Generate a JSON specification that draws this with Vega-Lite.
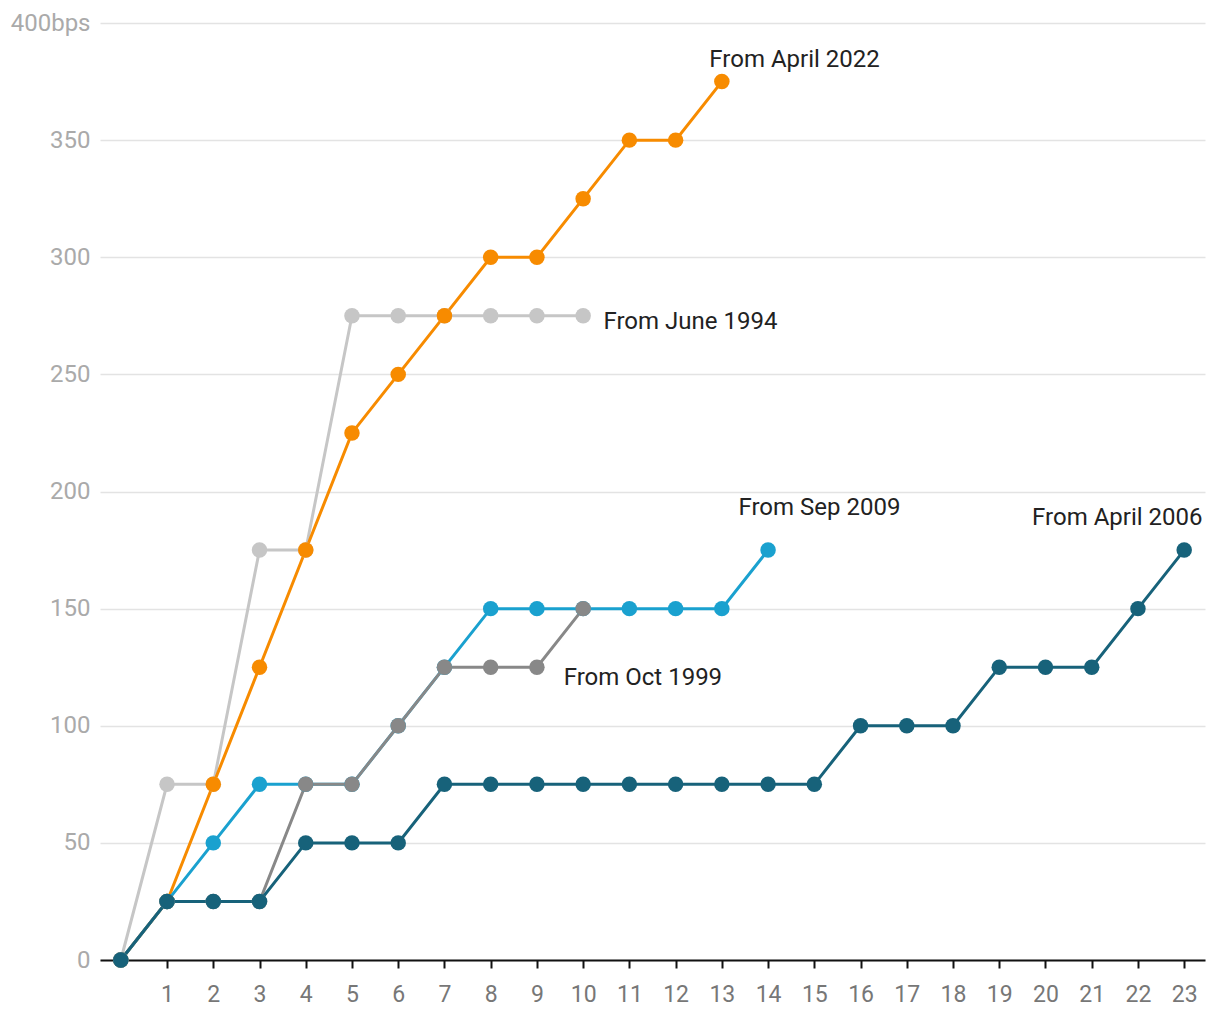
{
  "$schema": "https://vega.github.io/schema/vega-lite/v6.json",
  "width": 1105,
  "height": 937,
  "autosize": "none",
  "padding": {"left": 100, "top": 23, "right": 15, "bottom": 60},
  "background": "white",
  "config": {"view": {"stroke": null}, "font": "Roboto"},
  "datasets": {
    "series": [
      {"s": "June 1994", "x": 0, "y": 0}, {"s": "June 1994", "x": 1, "y": 75}, {"s": "June 1994", "x": 2, "y": 75}, {"s": "June 1994", "x": 3, "y": 175}, {"s": "June 1994", "x": 4, "y": 175}, {"s": "June 1994", "x": 5, "y": 275}, {"s": "June 1994", "x": 6, "y": 275}, {"s": "June 1994", "x": 7, "y": 275}, {"s": "June 1994", "x": 8, "y": 275}, {"s": "June 1994", "x": 9, "y": 275}, {"s": "June 1994", "x": 10, "y": 275},
      {"s": "April 2022", "x": 0, "y": 0}, {"s": "April 2022", "x": 1, "y": 25}, {"s": "April 2022", "x": 2, "y": 75}, {"s": "April 2022", "x": 3, "y": 125}, {"s": "April 2022", "x": 4, "y": 175}, {"s": "April 2022", "x": 5, "y": 225}, {"s": "April 2022", "x": 6, "y": 250}, {"s": "April 2022", "x": 7, "y": 275}, {"s": "April 2022", "x": 8, "y": 300}, {"s": "April 2022", "x": 9, "y": 300}, {"s": "April 2022", "x": 10, "y": 325}, {"s": "April 2022", "x": 11, "y": 350}, {"s": "April 2022", "x": 12, "y": 350}, {"s": "April 2022", "x": 13, "y": 375},
      {"s": "Sep 2009", "x": 0, "y": 0}, {"s": "Sep 2009", "x": 1, "y": 25}, {"s": "Sep 2009", "x": 2, "y": 50}, {"s": "Sep 2009", "x": 3, "y": 75}, {"s": "Sep 2009", "x": 4, "y": 75}, {"s": "Sep 2009", "x": 5, "y": 75}, {"s": "Sep 2009", "x": 6, "y": 100}, {"s": "Sep 2009", "x": 7, "y": 125}, {"s": "Sep 2009", "x": 8, "y": 150}, {"s": "Sep 2009", "x": 9, "y": 150}, {"s": "Sep 2009", "x": 10, "y": 150}, {"s": "Sep 2009", "x": 11, "y": 150}, {"s": "Sep 2009", "x": 12, "y": 150}, {"s": "Sep 2009", "x": 13, "y": 150}, {"s": "Sep 2009", "x": 14, "y": 175},
      {"s": "Oct 1999", "x": 0, "y": 0}, {"s": "Oct 1999", "x": 1, "y": 25}, {"s": "Oct 1999", "x": 2, "y": 25}, {"s": "Oct 1999", "x": 3, "y": 25}, {"s": "Oct 1999", "x": 4, "y": 75}, {"s": "Oct 1999", "x": 5, "y": 75}, {"s": "Oct 1999", "x": 6, "y": 100}, {"s": "Oct 1999", "x": 7, "y": 125}, {"s": "Oct 1999", "x": 8, "y": 125}, {"s": "Oct 1999", "x": 9, "y": 125}, {"s": "Oct 1999", "x": 10, "y": 150},
      {"s": "April 2006", "x": 0, "y": 0}, {"s": "April 2006", "x": 1, "y": 25}, {"s": "April 2006", "x": 2, "y": 25}, {"s": "April 2006", "x": 3, "y": 25}, {"s": "April 2006", "x": 4, "y": 50}, {"s": "April 2006", "x": 5, "y": 50}, {"s": "April 2006", "x": 6, "y": 50}, {"s": "April 2006", "x": 7, "y": 75}, {"s": "April 2006", "x": 8, "y": 75}, {"s": "April 2006", "x": 9, "y": 75}, {"s": "April 2006", "x": 10, "y": 75}, {"s": "April 2006", "x": 11, "y": 75}, {"s": "April 2006", "x": 12, "y": 75}, {"s": "April 2006", "x": 13, "y": 75}, {"s": "April 2006", "x": 14, "y": 75}, {"s": "April 2006", "x": 15, "y": 75}, {"s": "April 2006", "x": 16, "y": 100}, {"s": "April 2006", "x": 17, "y": 100}, {"s": "April 2006", "x": 18, "y": 100}, {"s": "April 2006", "x": 19, "y": 125}, {"s": "April 2006", "x": 20, "y": 125}, {"s": "April 2006", "x": 21, "y": 125}, {"s": "April 2006", "x": 22, "y": 150}, {"s": "April 2006", "x": 23, "y": 175}
    ],
    "labels": [
      {"t": "From April 2022", "x": 12.73, "y": 384.2},
      {"t": "From June 1994", "x": 10.44, "y": 272.4},
      {"t": "From Sep 2009", "x": 13.36, "y": 193.0},
      {"t": "From April 2006", "x": 19.71, "y": 188.7},
      {"t": "From Oct 1999", "x": 9.58, "y": 120.4}
    ]
  },
  "layer": [
    {
      "data": {"name": "series"},
      "mark": {"type": "line", "strokeWidth": 3},
      "encoding": {
        "x": {"field": "x", "type": "quantitative", "scale": {"domain": [-0.45, 23.45], "nice": false, "zero": false},
          "axis": {"values": [1,2,3,4,5,6,7,8,9,10,11,12,13,14,15,16,17,18,19,20,21,22,23], "title": null, "grid": false, "domainColor": "#111", "domainWidth": 2, "tickColor": "#111", "tickWidth": 2, "tickSize": 8, "labelFontSize": 23, "labelColor": "#777", "labelPadding": 15, "labelFont": "Roboto"}},
        "y": {"field": "y", "type": "quantitative", "scale": {"domain": [0, 400], "nice": false},
          "axis": {"values": [0,50,100,150,200,250,300,350,400], "title": null, "domain": false, "ticks": false, "gridColor": "#e3e3e3", "gridWidth": 1.5, "labelFontSize": 24, "labelColor": "#aaa", "labelPadding": 10, "labelFont": "Roboto", "labelExpr": "datum.value == 400 ? '400bps' : datum.label"}},
        "color": {"field": "s", "type": "nominal", "legend": null,
          "scale": {"domain": ["June 1994", "April 2022", "Sep 2009", "Oct 1999", "April 2006"], "range": ["#c6c6c6", "#f78b00", "#1aa1cf", "#888888", "#17627a"]}},
        "detail": {"field": "s"}
      }
    },
    {
      "data": {"name": "series"},
      "mark": {"type": "circle", "size": 240, "opacity": 1},
      "encoding": {
        "x": {"field": "x", "type": "quantitative"},
        "y": {"field": "y", "type": "quantitative"},
        "color": {"field": "s", "type": "nominal", "legend": null}
      }
    },
    {
      "data": {"name": "labels"},
      "mark": {"type": "text", "align": "left", "baseline": "middle", "fontSize": 24, "color": "#222", "font": "Roboto"},
      "encoding": {
        "x": {"field": "x", "type": "quantitative"},
        "y": {"field": "y", "type": "quantitative"},
        "text": {"field": "t"}
      }
    }
  ]
}
